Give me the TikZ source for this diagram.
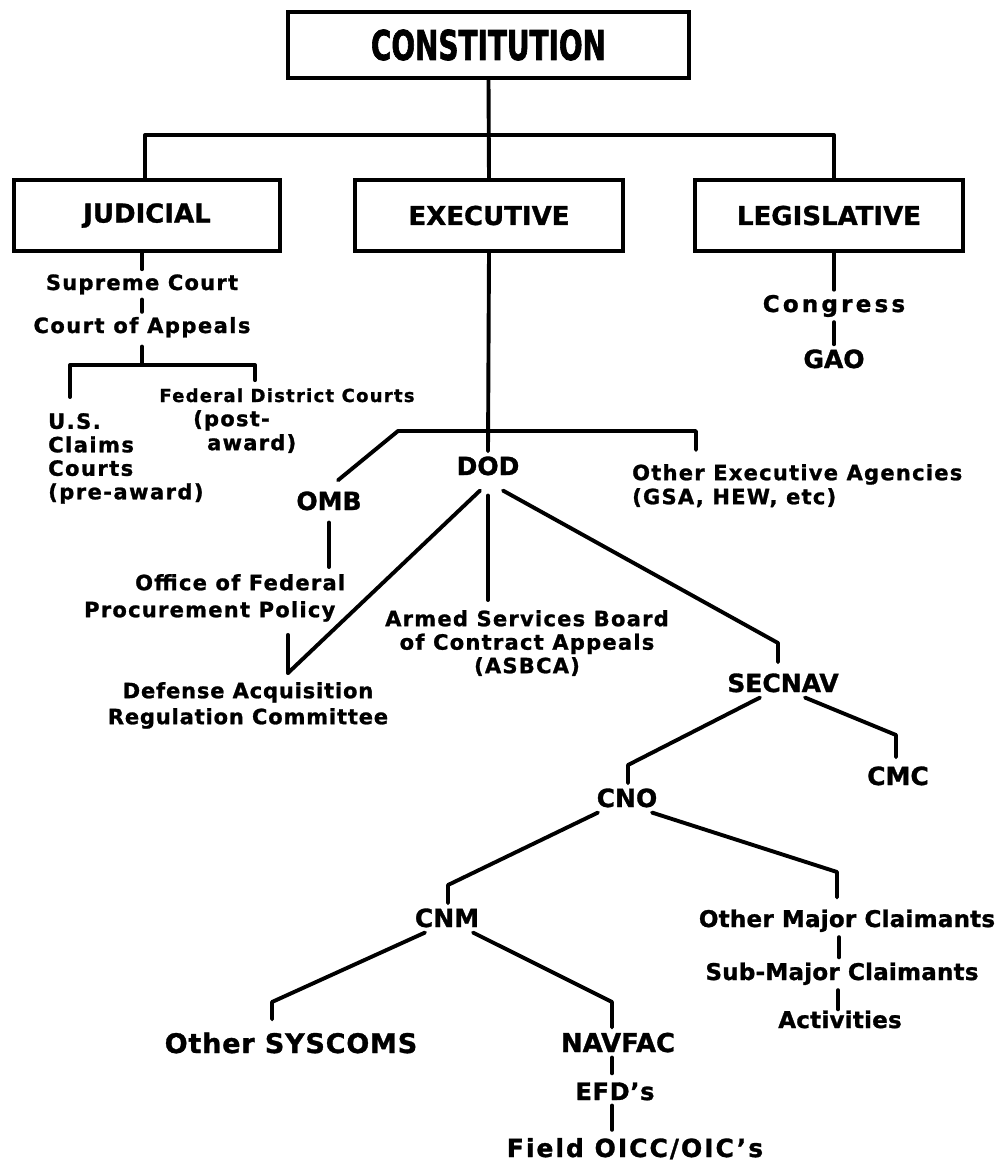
\documentclass[tikz,border=0pt]{standalone}
\usepackage{fontspec}
\setmainfont{DejaVu Sans}
\usepackage{graphicx}
\newcommand{\myfnt}[3]{\bfseries\fontsize{#1}{#2}\selectfont\addfontfeature{LetterSpace=#3,FakeBold=1.2}}
\begin{document}
\begin{tikzpicture}[x=1pt,y=-1pt,
  conn/.style={line width=3.9pt,line cap=round,line join=round},
  box/.style={draw,line width=4.2pt,inner sep=0pt,font=\myfnt{26}{30}{0}},
  lbl/.style={inner sep=5pt,anchor=base,font=\myfnt{21}{24}{6}},
  acr/.style={inner sep=5pt,anchor=base,font=\myfnt{25}{28}{0}}]
\fill[white] (0,0) rectangle (998,1163);
\useasboundingbox (0,0) rectangle (998,1163);

% boxes
\node[box,minimum width=401pt,minimum height=66pt] (const) at (488.5,45)
  {\scalebox{0.68}[1]{\fontsize{41}{41}\selectfont\addfontfeature{FakeBold=2} CONSTITUTION}};
\node[box,minimum width=266pt,minimum height=71pt] (jud) at (147,215.5) {JUDICIAL};
\node[box,minimum width=268pt,minimum height=71pt] (exe) at (489,215.5) {EXECUTIVE};
\node[box,minimum width=268pt,minimum height=71pt] (leg) at (829,215.5) {LEGISLATIVE};

% judicial
\node[lbl] (sc) at (142,290) {Supreme Court};
\node[lbl,font=\myfnt{21}{24}{7}] (coa) at (142,333) {Court of Appeals};
\node[lbl,font=\myfnt{18}{22}{7}] (fdc) at (287,402) {Federal District Courts};
\node[lbl,anchor=north west,align=left,font=\myfnt{21}{23.5}{7}] (usc) at (43,408) {U.S.\\Claims\\Courts\\(pre-award)};
\node[lbl,anchor=north west,align=left,font=\myfnt{21}{24}{6}] (post) at (188,405) {(post-\\\hspace*{14pt}award)};

% legislative
\node[lbl,font=\myfnt{23}{26}{14}] (cong) at (834,312) {Congress};
\node[acr] (gao) at (834,368) {GAO};

% executive
\node[acr] (dod) at (488,475) {DOD};
\node[acr] (omb) at (329,510) {OMB};
\node[lbl,anchor=north west,align=left,font=\myfnt{21}{24}{6}] (oea) at (627,459) {Other Executive Agencies\\(GSA, HEW, etc)};
\node[lbl,anchor=north west,align=left,font=\myfnt{21}{27}{6}] (ofpp) at (79,569) {\hspace*{51pt}Office of Federal\\Procurement Policy};
\node[lbl,anchor=north,align=center,font=\myfnt{21}{26}{4}] (dar) at (248,677) {Defense Acquisition\\Regulation Committee};
\node[lbl,anchor=north,align=center,font=\myfnt{21}{23.5}{6}] (asbca) at (527,605) {Armed Services Board\\of Contract Appeals\\(ASBCA)};

% navy
\node[acr] (secnav) at (783,692) {SECNAV};
\node[acr] (cmc) at (898,785) {CMC};
\node[acr] (cno) at (627,807) {CNO};
\node[acr] (cnm) at (447,927) {CNM};
\node[lbl,font=\myfnt{23}{26}{1}] (omc) at (847,927) {Other Major Claimants};
\node[lbl,font=\myfnt{23}{26}{1}] (smc) at (842,980) {Sub-Major Claimants};
\node[lbl,font=\myfnt{23}{26}{1}] (act) at (840,1028) {Activities};
\node[acr,font=\myfnt{27}{30}{3}] (sys) at (291,1053) {Other SYSCOMS};
\node[acr,font=\myfnt{26}{30}{0}] (nav) at (618,1052) {NAVFAC};
\node[acr,font=\myfnt{24}{28}{3}] (efd) at (615,1100) {EFD's};
\node[acr,font=\myfnt{25}{28}{8}] (field) at (635,1157) {Field OICC/OIC's};

% top connectors
\draw[conn] (const.south) -- (exe.north);
\coordinate (tbL) at (145,135);
\coordinate (tbR) at (834,135);
\draw[conn] (tbL |- jud.north) -- (tbL) -- (tbR) -- (tbR |- leg.north);

% judicial connectors
\draw[conn] (sc.north |- jud.south) -- (sc.north);
\draw[conn] (sc.south) -- (coa.north);
\coordinate (jb) at (142,365);
\coordinate (jbL) at (70,365);
\coordinate (jbR) at (255,365);
\coordinate (uscIn) at ([xshift=27pt,yshift=11pt]usc.north west);
\coordinate (fdcIn) at ([xshift=-32pt,yshift=3pt]fdc.north);
\draw[conn,shorten <=4pt] (coa.south) -- (jb);
\draw[conn] (uscIn) -- (jbL) -- (jbR) -- (fdcIn);

% legislative connectors
\draw[conn] (cong.north |- leg.south) -- (cong.north);
\draw[conn] (cong.south) -- (gao.north);

% executive connectors
\draw[conn] (exe.south) -- (dod.north);
\coordinate (dbL) at (398,431);
\coordinate (dbR) at (696,431);
\coordinate (ombIn) at ([xshift=9pt,yshift=6pt]omb.north);
\coordinate (oeaIn) at ([xshift=69pt,yshift=9pt]oea.north west);
\draw[conn] (ombIn) -- (dbL) -- (dbR) -- (oeaIn);
\coordinate (ofppIn) at (omb.south |- ofpp.north);
\draw[conn] ([yshift=-7pt]omb.south) -- ([yshift=2pt]ofppIn);
\coordinate (darIn) at ([xshift=40pt,yshift=4pt]dar.north);
\coordinate (ofppOut) at (darIn |- ofpp.south);
\draw[conn] ([yshift=-8pt]ofppOut) -- (darIn);
\draw[conn] ([xshift=-8pt,yshift=-10pt]dod.south) -- (darIn);
\coordinate (asbIn) at (dod.south |- asbca.north);
\draw[conn] ([yshift=-15pt]dod.south) -- ([yshift=5pt]asbIn);
\coordinate (sBend) at (778,643);
\coordinate (secIn) at (sBend |- secnav.north);
\draw[conn] ([xshift=15pt,yshift=-10pt]dod.south) -- (sBend) -- ([yshift=6pt]secIn);

% navy connectors
\coordinate (cnoBend) at (628,765);
\coordinate (cnoIn) at (cnoBend |- cno.north);
\draw[conn] ([xshift=-23pt]secnav.south) -- (cnoBend) -- (cnoIn);
\coordinate (cmcBend) at (896,735);
\coordinate (cmcIn) at (cmcBend |- cmc.north);
\draw[conn] ([xshift=22pt]secnav.south) -- (cmcBend) -- ([yshift=4pt]cmcIn);
\coordinate (cnmBend) at (448,885);
\coordinate (cnmIn) at (cnmBend |- cnm.north);
\draw[conn] ([xshift=-29pt]cno.south) -- (cnmBend) -- (cnmIn);
\coordinate (omcBend) at (837,872);
\coordinate (omcIn) at (omcBend |- omc.north);
\draw[conn] ([xshift=25pt]cno.south) -- (omcBend) -- ([yshift=7pt]omcIn);
\coordinate (omcOut) at ([xshift=-8pt]omc.south);
\coordinate (smcIn) at (omcOut |- smc.north);
\draw[conn] (omcOut) -- (smcIn);
\coordinate (smcOut) at ([xshift=-4pt]smc.south);
\coordinate (actIn) at (smcOut |- act.north);
\draw[conn] (smcOut) -- ([yshift=-4pt]actIn);

% cnm connectors
\coordinate (sysBend) at (272,1002);
\coordinate (sysIn) at (sysBend |- sys.north);
\draw[conn] ([xshift=-22pt]cnm.south) -- (sysBend) -- ([yshift=8pt]sysIn);
\coordinate (navBend) at (612,1002);
\coordinate (navIn) at (navBend |- nav.north);
\draw[conn] ([xshift=26pt]cnm.south) -- (navBend) -- (navIn);
\coordinate (navOut) at (navBend |- nav.south);
\coordinate (efdIn) at (navBend |- efd.north);
\draw[conn] (navOut) -- ([yshift=4pt]efdIn);
\coordinate (efdOut) at (navBend |- efd.south);
\coordinate (fieldIn) at (navBend |- field.north);
\draw[conn] (efdOut) -- ([yshift=3pt]fieldIn);
\end{tikzpicture}
\end{document}
